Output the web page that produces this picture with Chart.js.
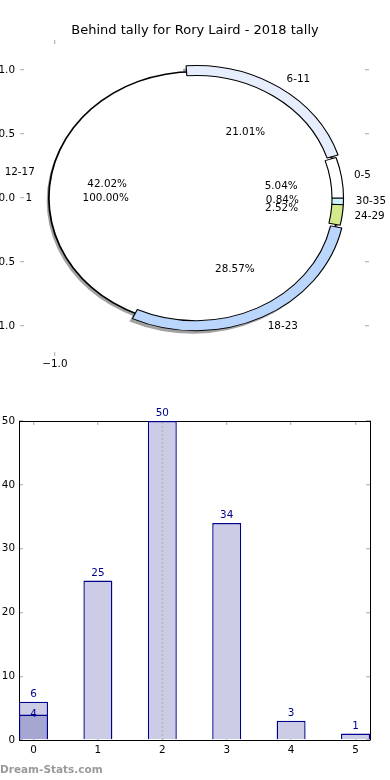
<!DOCTYPE html>
<html><head><meta charset="utf-8">
<script src="https://cdn.jsdelivr.net/npm/chart.js@4/dist/chart.umd.min.js"></script>
<style>
html,body{margin:0;padding:0;background:#fff;}
#wrap{position:relative;width:390px;height:780px;overflow:hidden;font-family:"DejaVu Sans",sans-serif;}
canvas{position:absolute;left:0;}
#title{position:absolute;left:0;width:390px;top:21px;text-align:center;font-size:13px;color:#000;line-height:18px;white-space:nowrap;}
#wm{position:absolute;left:0;top:763px;font-size:10.5px;font-weight:bold;color:#9a9a9a;line-height:13px;}
</style></head><body>
<div id="wrap">
<canvas id="pieAxes" width="390" height="390" style="top:0"></canvas>
<canvas id="pieShadow" width="390" height="390" style="top:0"></canvas>
<canvas id="pieInner" width="390" height="390" style="top:0"></canvas>
<canvas id="pieOuter" width="390" height="390" style="top:0"></canvas>
<canvas id="bars" width="390" height="380" style="top:400px"></canvas>
<div id="title">Behind tally for Rory Laird - 2018 tally</div>
<div id="wm">Dream-Stats.com</div>
</div>
<script>
// ---------- data ----------
const categories = ['0-5','6-11','12-17','18-23','24-29','30-35'];
const counts = [6, 25, 50, 34, 3, 1];
const barPositions = [0, 1, 2, 3, 4, 5];
const overlayPositions = [0];
const overlayCounts = [4];
const innerLabels = ['1'];
const innerValues = [1];
const barYTicks = [0, 10, 20, 30, 40, 50];
const pieYTicks = [-1, -0.5, 0, 0.5, 1];
const pieXTicks = [-1];

// ---------- styles ----------
const FONT = '"DejaVu Sans", sans-serif';
const FS = 10.4;
const SX = 1.15;        // horizontal stretch of the pie
const R_B = 127;        // inner (white) pie radius, px (vertical)
const R_OUT = 130;      // wedge ring outer radius
const R_IN = 120;       // wedge ring inner radius
const R_L = 128;        // reference radius for label placement
const wedgeColors = {'0-5':'#ffffff','6-11':'#e6edfc','12-17':'rgba(0,0,0,0)','18-23':'#bad6fc','24-29':'#d3ea8c','30-35':'#cdf3fb'};
const wedgeBorder = {'0-5':1,'6-11':1,'12-17':0,'18-23':1,'24-29':1,'30-35':1};
const explodePx = {'0-5':0,'6-11':3,'12-17':0,'18-23':3,'24-29':0,'30-35':0};
const shadowCol = 'rgba(70,70,70,0.5)';
const tickGrey = '#bdbdbd';
const navy = '#00008b';

const total = counts.reduce((a, b) => a + b, 0);
const fmtAxis = v => v.toFixed(1).replace('-', '\u2212');

// ---------- pie axes (ticks only) ----------
function tickAxis(pos, min, max, ticksArr, showLabels, size, pad) {
  const horiz = pos === 'top' || pos === 'bottom';
  return {
    type: 'linear', position: pos, min, max,
    afterBuildTicks: s => { s.ticks = ticksArr.map(v => ({value: v})); },
    afterFit: s => { if (horiz) s.height = size; else s.width = size; },
    ticks: {display: showLabels, padding: pad, color: '#000', font: {family: FONT, size: FS}, callback: v => fmtAxis(v), maxRotation: 0, autoSkip: false},
    grid: {drawOnChartArea: false, drawTicks: true, tickLength: -4, color: tickGrey, lineWidth: 1.3},
    border: {display: false}
  };
}
new Chart(document.getElementById('pieAxes'), {
  type: 'scatter',
  data: {datasets: []},
  options: {
    responsive: false, animation: false, devicePixelRatio: 1, events: [],
    plugins: {legend: {display: false}, tooltip: {enabled: false}},
    scales: {
      x: tickAxis('bottom', -1.25, 1.25, pieXTicks, true, 34, 6),
      x2: tickAxis('top', -1.25, 1.25, pieXTicks, false, 40, 0),
      y: tickAxis('left', -1.234, 1.234, pieYTicks, true, 20, 9),
      y2: tickAxis('right', -1.234, 1.234, pieYTicks, false, 21, 0)
    }
  }
});

// ---------- pies ----------
function stretch(shiftX, shiftY, shadowIndex) {
  return {
    id: 'stretch',
    beforeDatasetsDraw(chart) {
      const ctx = chart.ctx, a = chart.chartArea;
      const cx = (a.left + a.right) / 2, cy = (a.top + a.bottom) / 2;
      ctx.save();
      ctx.translate(cx + shiftX, cy + shiftY); ctx.scale(SX, 1); ctx.translate(-cx, -cy);
    },
    beforeDatasetDraw(chart, args) {
      const ctx = chart.ctx;
      if (args.index === shadowIndex) {
        ctx.shadowColor = shadowCol; ctx.shadowOffsetX = -3; ctx.shadowOffsetY = 3; ctx.shadowBlur = 0;
      } else {
        ctx.shadowColor = 'rgba(0,0,0,0)';
      }
    },
    afterDatasetsDraw(chart) { chart.ctx.restore(); }
  };
}
const baseOpts = (radius, cutout) => ({
  responsive: false, animation: false, devicePixelRatio: 1, events: [],
  radius, cutout, rotation: 90,
  layout: {padding: {left: 0, right: 2, top: 6, bottom: 0}},
  plugins: {legend: {display: false}, tooltip: {enabled: false}}
});
const ringCutout = (R_IN / R_OUT * 100) + '%';

// wedges drawn clockwise from 3 o'clock, so reverse the natural (counter-clockwise) order
const order = categories.map((c, i) => i).reverse();
const outerLabels = order.map(i => categories[i]);
const outerData = order.map(i => counts[i]);
const outerColors = order.map(i => wedgeColors[categories[i]]);
const outerBorders = order.map(i => wedgeBorder[categories[i]]);
const outerOffsets = order.map(i => 4 * explodePx[categories[i]]);

// shadow layer of the wedges (under the white pie)
new Chart(document.getElementById('pieShadow'), {
  type: 'doughnut',
  data: {labels: outerLabels, datasets: [{data: outerData,
    backgroundColor: order.map(i => wedgeBorder[categories[i]] ? shadowCol : 'rgba(0,0,0,0)'),
    borderWidth: 0, offset: outerOffsets, hoverOffset: 0}]},
  options: baseOpts(R_OUT, ringCutout),
  plugins: [stretch(-3, 3, -1)]
});

// inner white pie "1" (black rim ring + white disc)
const innerChart = new Chart(document.getElementById('pieInner'), {
  type: 'pie',
  data: {labels: innerLabels, datasets: [
    {data: innerValues, backgroundColor: '#000000', borderWidth: 0, weight: 1.5, hoverOffset: 0},
    {data: innerValues, backgroundColor: '#ffffff', borderWidth: 0, weight: R_B - 1.5, hoverOffset: 0}
  ]},
  options: baseOpts(R_B, 0),
  plugins: [stretch(0, 0, 1)]
});

// labels drawn on top
const labelPlugin = {
  id: 'pieLabels',
  afterDraw(chart) {
    const ctx = chart.ctx;
    ctx.save();
    ctx.font = FS + 'px ' + FONT;
    ctx.fillStyle = '#000';
    ctx.textBaseline = 'middle';
    const put = (meta, labels, values, shiftFn) => {
      const sum = values.reduce((a, b) => a + b, 0);
      meta.data.forEach((el, k) => {
        const a = (el.startAngle + el.endAngle) / 2;
        const t = shiftFn(k);
        const c = Math.cos(a), s = Math.sin(a);
        const lr = 1.1 * R_L + t, pr = 0.6 * R_L + t;
        ctx.textAlign = c > 1e-9 ? 'left' : 'right';
        ctx.fillText(labels[k], el.x + SX * lr * c, el.y + lr * s);
        ctx.textAlign = 'center';
        ctx.fillText((values[k] / sum * 100).toFixed(2) + '%', el.x + SX * pr * c, el.y + pr * s);
      });
    };
    put(chart.getDatasetMeta(0), outerLabels, outerData, k => explodePx[outerLabels[k]]);
    put(innerChart.getDatasetMeta(1), innerLabels, innerValues, () => 0);
    ctx.restore();
  }
};
new Chart(document.getElementById('pieOuter'), {
  type: 'doughnut',
  data: {labels: outerLabels, datasets: [{data: outerData, backgroundColor: outerColors, borderColor: '#000',
    borderWidth: outerBorders, offset: outerOffsets, hoverOffset: 0}]},
  options: baseOpts(R_OUT, ringCutout),
  plugins: [stretch(0, 0, -1), labelPlugin]
});

// ---------- bars ----------
const maxIdx = counts.indexOf(Math.max(...counts));
const barLabels = {
  id: 'barLabels',
  afterDatasetsDraw(chart) {
    const ctx = chart.ctx;
    ctx.save();
    ctx.font = FS + 'px ' + FONT;
    ctx.fillStyle = navy;
    ctx.textAlign = 'center';
    chart.getDatasetMeta(2).data.forEach((el, k) => {
      ctx.textBaseline = 'alphabetic';
      ctx.fillText(String(counts[k]), el.x, el.y - 5);
    });
    chart.getDatasetMeta(1).data.forEach((el, k) => {
      ctx.textBaseline = 'middle';
      ctx.fillText(String(overlayCounts[k]), el.x, el.y);
    });
    ctx.restore();
  }
};
function barAxis(pos, min, max, ticksArr, showLabels, size, pad) {
  const horiz = pos === 'top' || pos === 'bottom';
  return {
    type: 'linear', position: pos, min, max, offset: false,
    afterBuildTicks: s => { s.ticks = ticksArr.map(v => ({value: v})); },
    afterFit: s => { if (horiz) s.height = size; else s.width = size; },
    ticks: {display: showLabels, padding: pad, color: '#000', font: {family: FONT, size: FS}, callback: v => String(v), maxRotation: 0, autoSkip: false},
    grid: {offset: false, drawOnChartArea: false, drawTicks: true, tickLength: -4, color: tickGrey, lineWidth: 1.3},
    border: {display: true, color: '#000', width: 1}
  };
}
new Chart(document.getElementById('bars'), {
  type: 'bar',
  data: {
    datasets: [
      {type: 'line', data: [{x: barPositions[maxIdx], y: 0}, {x: barPositions[maxIdx], y: counts[maxIdx]}],
       borderColor: '#a8a8a8', borderWidth: 1, borderDash: [2, 2], pointRadius: 0, order: 0},
      {data: overlayPositions.map((x, i) => ({x, y: overlayCounts[i]})), backgroundColor: '#a6a6d2', borderColor: navy,
       borderWidth: 1.4, grouped: false, order: 1, barPercentage: 0.45, categoryPercentage: 1},
      {data: barPositions.map((x, i) => ({x, y: counts[i]})), backgroundColor: '#ccccE6', borderColor: navy,
       borderWidth: 1.4, grouped: false, order: 2, barPercentage: 0.45, categoryPercentage: 1}
    ]
  },
  options: {
    responsive: false, animation: false, devicePixelRatio: 1, events: [],
    plugins: {legend: {display: false}, tooltip: {enabled: false}},
    layout: {padding: 0},
    scales: {
      x: barAxis('bottom', -0.225, 5.225, barPositions, true, 40, 8),
      x2: barAxis('top', -0.225, 5.225, barPositions, false, 21, 0),
      y: barAxis('left', 0, 50, barYTicks, true, 19, 8),
      y2: barAxis('right', 0, 50, barYTicks, false, 20, 0)
    }
  },
  plugins: [barLabels]
});
</script>
</body></html>
